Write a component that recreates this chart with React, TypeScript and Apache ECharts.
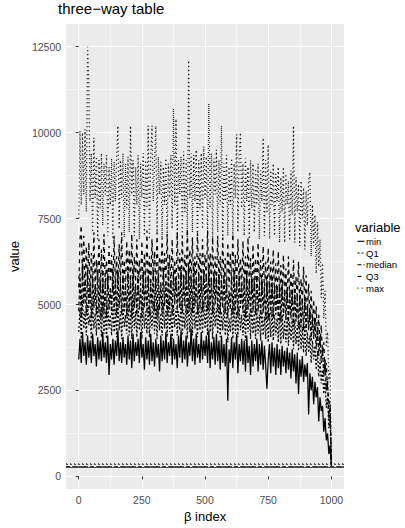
import { useEffect, useRef } from "react";
import * as echarts from "echarts";

// β index spacing between consecutive stored values
const betaStep = 5;

const variables = ["min", "Q1", "median", "Q3", "max"];

const minValues = [
  3400, 4000, 3300, 4200, 3500, 3900, 3250, 4100, 3450, 3950,
  3300, 4150, 3500, 3850, 3200, 4050, 3400, 3950, 3350, 4200,
  3450, 3900, 3300, 4100, 2950, 3850, 3400, 4000, 3250, 3950,
  3500, 4250, 3350, 3900, 3300, 4050, 3450, 3850, 3250, 4100,
  3400, 3950, 3150, 4150, 3350, 3900, 3500, 4000, 3300, 4200,
  3450, 3850, 3100, 4050, 3400, 3950, 3250, 4150, 3350, 3900,
  3200, 4000, 3450, 3850, 3050, 4100, 3350, 3950, 3400, 4200,
  3300, 3900, 3500, 4150, 3250, 4000, 3400, 3850, 3150, 4100,
  3450, 4250, 3300, 3950, 3400, 4100, 3200, 3900, 3500, 4300,
  3350, 4000, 3250, 4150, 3450, 3850, 3300, 4200, 3400, 3950,
  3500, 4100, 3300, 4250, 3150, 3900, 3400, 4050, 3250, 4150,
  3350, 3950, 3100, 4100, 3300, 3850, 3200, 4000, 2200, 3700,
  3300, 4050, 3150, 3900, 3400, 4150, 3000, 3850, 3350, 4000,
  3250, 3950, 3050, 4100, 3300, 3800, 2950, 3950, 3200, 3850,
  3350, 4000, 3050, 3850, 3250, 3950, 3100, 3800, 3200, 2550,
  3400, 3850, 3000, 3900, 3200, 3750, 2950, 3850, 3150, 3700,
  2950, 3800, 3200, 3650, 3000, 3750, 3100, 3600, 2850, 3700,
  3050, 3550, 2700, 3600, 2400, 3400, 2900, 3500, 2750, 3250,
  2900, 3300, 1800, 3000, 2500, 2900, 2100, 2750, 2300, 2600,
  1600, 2300, 1900, 2050, 1300, 1700, 1050, 1250, 650, 900,
  300,
];

const q1Values = [
  4200, 4900, 4000, 5200, 4300, 4800, 4100, 5000, 4400, 4700,
  4000, 5100, 4300, 4750, 4100, 4950, 4250, 4850, 4050, 5050,
  4150, 4800, 4000, 5000, 4300, 4700, 4100, 4950, 4200, 4850,
  4050, 5100, 4250, 4800, 4000, 4950, 4350, 4700, 4150, 5000,
  4100, 4850, 4000, 5200, 4300, 4800, 4050, 4900, 4250, 4750,
  4000, 5050, 4300, 4800, 4150, 4950, 4050, 4850, 4300, 5100,
  4150, 4900, 4000, 5000, 4250, 4750, 4100, 5050, 4300, 4850,
  4050, 5150, 4200, 4800, 4000, 5000, 4350, 4900, 4100, 4800,
  4250, 5100, 4100, 4850, 4300, 5000, 4000, 5200, 4200, 4900,
  4100, 5250, 4300, 4800, 4050, 5000, 4250, 4950, 4150, 5100,
  4300, 5000, 4100, 5200, 4200, 4850, 4000, 5050, 4350, 4900,
  4150, 5000, 4050, 4800, 4250, 4950, 4100, 4850, 3900, 4600,
  4200, 4900, 4000, 5100, 4150, 4800, 4050, 4950, 4250, 4700,
  4100, 4850, 3950, 5000, 4200, 4750, 4000, 4900, 4150, 4800,
  4000, 4900, 4150, 4700, 3950, 4850, 4100, 4650, 4000, 4800,
  3900, 4750, 4050, 4850, 3950, 4700, 4100, 4600, 3900, 4750,
  3850, 4700, 4000, 4550, 3900, 4650, 3800, 4500, 3950, 4600,
  3700, 4550, 3850, 4400, 3650, 4500, 3700, 4350, 3600, 4400,
  3500, 4200, 3600, 4100, 3300, 3950, 3400, 3800, 3100, 3650,
  2900, 3400, 2700, 3100, 2400, 2800, 2000, 2300, 1400, 1700,
  320,
];

const medianValues = [
  4800, 5900, 4600, 6200, 5000, 5700, 4700, 6000, 4900, 5600,
  4600, 5800, 4900, 5500, 4700, 6000, 4800, 5700, 4600, 5900,
  4750, 5600, 4600, 5900, 4850, 5500, 4700, 6050, 4800, 5700,
  4650, 6000, 4900, 5600, 4700, 5850, 4800, 5500, 4650, 5950,
  4800, 5700, 4600, 6050, 4900, 5600, 4700, 5850, 4850, 5500,
  4600, 5950, 4900, 5700, 4750, 5850, 4650, 5600, 4900, 6000,
  4800, 5750, 4600, 5900, 4850, 5650, 4700, 6000, 4950, 5700,
  4650, 6100, 4850, 5700, 4700, 5950, 5000, 5800, 4750, 5650,
  4900, 6000, 4750, 5750, 4950, 5900, 4700, 6150, 4850, 5800,
  4750, 6200, 4950, 5700, 4700, 5900, 4900, 5850, 4800, 6000,
  5000, 5900, 4800, 6100, 4850, 5750, 4700, 5950, 5000, 5800,
  4800, 5900, 4700, 5700, 4900, 5850, 4750, 5750, 4600, 5400,
  4850, 5800, 4700, 6000, 4800, 5700, 4650, 5850, 4900, 5600,
  4750, 5750, 4600, 5900, 4850, 5650, 4650, 5800, 4800, 5700,
  4700, 5800, 4800, 5550, 4600, 5750, 4750, 5500, 4550, 5700,
  4550, 5650, 4700, 5750, 4600, 5550, 4700, 5500, 4550, 5600,
  4500, 5600, 4650, 5400, 4550, 5500, 4400, 5350, 4600, 5450,
  4350, 5400, 4500, 5250, 4300, 5300, 4350, 5150, 4250, 5200,
  4200, 4950, 4250, 4850, 3950, 4700, 4000, 4550, 3700, 4350,
  3500, 4100, 3300, 3700, 2900, 3400, 2500, 2800, 1700, 2100,
  340,
];

const q3Values = [
  5500, 6900, 7300, 5700, 7000, 5400, 6700, 5600, 6800, 5300,
  6500, 5500, 7100, 5400, 6300, 5700, 6900, 5450, 6600, 5350,
  7050, 5550, 6300, 5400, 6700, 5650, 6450, 5350, 7000, 5500,
  6400, 5450, 6750, 5600, 7100, 5500, 6300, 5400, 6850, 5700,
  6600, 5550, 7050, 5450, 6400, 5650, 6900, 5350, 6300, 5550,
  6850, 5400, 6500, 5600, 7150, 5500, 6400, 5450, 6900, 5750,
  6550, 5500, 7100, 5650, 6400, 5800, 6950, 5550, 6500, 5600,
  7050, 5700, 6450, 5500, 6900, 5650, 6300, 5400, 7100, 5600,
  6500, 5600, 7000, 5450, 6450, 5700, 7200, 5500, 6600, 5650,
  6950, 5550, 6400, 5600, 7100, 5750, 6500, 5400, 6900, 5600,
  6450, 5700, 7150, 5550, 6500, 5600, 6950, 5450, 6400, 5550,
  7000, 5650, 6400, 5500, 6950, 5600, 6350, 5350, 6800, 5500,
  6500, 5600, 7050, 5500, 6450, 5450, 6900, 5600, 6350, 5350,
  6850, 5500, 6400, 5350, 6950, 5550, 6350, 5300, 6750, 5400,
  6350, 5300, 6800, 5450, 6300, 5250, 6700, 5400, 6250, 5200,
  6650, 5350, 6250, 5200, 6600, 5300, 6200, 5150, 6550, 5250,
  6150, 5100, 6450, 5250, 6050, 5050, 6400, 5200, 5950, 5000,
  6300, 5050, 5800, 5150, 6250, 4950, 5750, 5000, 6100, 4850,
  5850, 4700, 5600, 4550, 5400, 4400, 5150, 4200, 4950, 4000,
  4700, 3800, 4400, 3500, 3900, 3000, 3300, 2500, 2300, 1900,
  360,
];

const maxValues = [
  7500, 10050, 7900, 10000, 8200, 10100, 7700, 12500, 11400, 8000,
  9400, 7100, 9850, 8100, 9300, 6900, 9200, 7800, 9400, 7300,
  9100, 8200, 9350, 7000, 9000, 7900, 9250, 6900, 9150, 8000,
  9300, 10200, 7200, 9200, 8100, 9400, 6950, 9100, 7800, 9300,
  7100, 10200, 8200, 9200, 7000, 9000, 7900, 9350, 6900, 9100,
  8100, 9400, 7000, 9200, 7800, 10200, 6900, 9300, 10200, 8000,
  9100, 10200, 7100, 9300, 8200, 9150, 6950, 9000, 7900, 9250,
  7000, 9100, 8100, 9350, 7200, 10700, 7900, 10400, 6900, 9200,
  8200, 9300, 7000, 9450, 7700, 9200, 6900, 12100, 8100, 9400,
  7100, 9350, 8000, 9500, 6950, 9200, 7800, 9400, 7200, 9600,
  8100, 9300, 7000, 10850, 7800, 9400, 6900, 9250, 8200, 9500,
  7100, 9200, 7900, 10200, 6900, 9100, 8000, 9350, 7000, 9000,
  7900, 9250, 6900, 9100, 8100, 9950, 7100, 9300, 10000, 7800,
  9100, 7000, 9250, 8000, 9000, 6900, 9200, 7800, 9100, 7100,
  8950, 7900, 9100, 6900, 8900, 8000, 9850, 7000, 9200, 7700,
  9650, 6900, 8900, 7900, 9100, 7000, 8800, 8000, 9000, 6800,
  8700, 7700, 9000, 6800, 8800, 7900, 8600, 6900, 8900, 7600,
  10200, 6800, 8700, 7700, 8500, 6700, 8600, 7500, 8400, 6600,
  8300, 7300, 8600, 8850, 6400, 7900, 6700, 7600, 5900, 7400,
  6100, 6900, 5200, 6200, 4600, 5400, 3800, 4200, 2800, 3100,
  380,
];

// horizontal reference level drawn for each variable
const refLevels = [255, 350, 300, 290, 380];

const xTicks = [0, 250, 500, 750, 1000];
const xMinorTicks = [125, 375, 625, 875];
const yTicks = [0, 2500, 5000, 7500, 10000, 12500];
const yMinorTicks = [1250, 3750, 6250, 8750, 11250];

const seriesValues = [minValues, q1Values, medianValues, q3Values, maxValues];

const FONT = '"Liberation Sans", Arial, Helvetica, sans-serif';
const lineDashes: (number[] | null)[] = [null, [2, 2], [4, 2], [4, 4], [1, 3]];

export default function App() {
  const ref = useRef<HTMLDivElement>(null);

  useEffect(() => {
    if (!ref.current) return;
    const chart = echarts.init(ref.current, null, { renderer: "svg" });

    const tickLabel = {
      color: "#4D4D4D",
      fontSize: 10.5,
      fontFamily: FONT,
      formatter: (v: number) => String(v),
    };

    // legend: title plus one key line and label per variable
    const legendTop = 241.3;
    const legendRow = 11.7;
    const legendGraphics: any[] = [
      {
        type: "text",
        left: 355,
        top: 221,
        style: { text: "variable", fontSize: 13, fill: "#000", fontFamily: FONT },
      },
    ];
    variables.forEach((name, k) => {
      const y = legendTop + k * legendRow;
      legendGraphics.push({
        type: "line",
        shape: { x1: 357.5, y1: y, x2: 364.5, y2: y },
        style: { stroke: "#000", lineWidth: 1.1, lineDash: lineDashes[k] || undefined },
      });
      legendGraphics.push({
        type: "text",
        x: 366,
        y,
        style: {
          text: name,
          fontSize: 9.5,
          fill: "#000",
          fontFamily: FONT,
          verticalAlign: "middle",
        },
      });
    });

    chart.setOption({
      animation: false,
      title: {
        text: "three\u2212way table",
        left: 58,
        top: 1,
        padding: 0,
        textStyle: { fontSize: 15, fontWeight: "normal", color: "#000", fontFamily: FONT },
      },
      graphic: legendGraphics,
      grid: {
        left: 59,
        right: 61,
        top: 24,
        bottom: 37,
        show: true,
        backgroundColor: "#EBEBEB",
        borderWidth: 0,
      },
      xAxis: [
        {
          type: "value",
          min: -50,
          max: 1050,
          name: "\u03b2 index",
          nameLocation: "middle",
          nameGap: 17,
          nameTextStyle: { fontSize: 13, color: "#000", fontFamily: FONT },
          axisLine: { show: false },
          axisTick: { show: true, length: 3, customValues: xTicks, lineStyle: { color: "#333", width: 1 } },
          axisLabel: { ...tickLabel, margin: 5, customValues: xTicks },
          splitLine: { show: true, lineStyle: { color: "#FFFFFF", width: 1.07 } },
        },
        {
          type: "value",
          min: -50,
          max: 1050,
          position: "bottom",
          axisLine: { show: false },
          axisTick: { show: false, customValues: xMinorTicks },
          axisLabel: { show: false, customValues: xMinorTicks },
          splitLine: { show: true, lineStyle: { color: "#FFFFFF", width: 0.53 } },
        },
      ],
      yAxis: [
        {
          type: "value",
          min: -370,
          max: 13160,
          name: "value",
          nameLocation: "middle",
          nameGap: 41,
          nameTextStyle: { fontSize: 13, color: "#000", fontFamily: FONT },
          axisLine: { show: false },
          axisTick: { show: true, length: 3, customValues: yTicks, lineStyle: { color: "#333", width: 1 } },
          axisLabel: { ...tickLabel, margin: 5, customValues: yTicks },
          splitLine: { show: true, lineStyle: { color: "#FFFFFF", width: 1.07 } },
        },
        {
          type: "value",
          min: -370,
          max: 13160,
          position: "left",
          axisLine: { show: false },
          axisTick: { show: false, customValues: yMinorTicks },
          axisLabel: { show: false, customValues: yMinorTicks },
          splitLine: { show: true, lineStyle: { color: "#FFFFFF", width: 0.53 } },
        },
      ],
      series: variables.map((name, k) => ({
        name,
        type: "line",
        xAxisIndex: 0,
        yAxisIndex: 0,
        data: seriesValues[k].map((v, i) => [i * betaStep, v]),
        symbol: "none",
        showSymbol: false,
        silent: true,
        color: "#000",
        lineStyle: { color: "#000", width: 1.25, type: lineDashes[k] || "solid" },
        markLine: {
          silent: true,
          symbol: ["none", "none"],
          label: { show: false },
          lineStyle: { color: "#222", width: 0.8, type: lineDashes[k] || "solid" },
          data: [{ yAxis: refLevels[k] }],
        },
      })),
    });

    return () => chart.dispose();
  }, []);

  return (
    <div
      ref={ref}
      style={{ position: "fixed", left: 0, top: 0, width: 405, height: 528, background: "#fff" }}
    />
  );
}
